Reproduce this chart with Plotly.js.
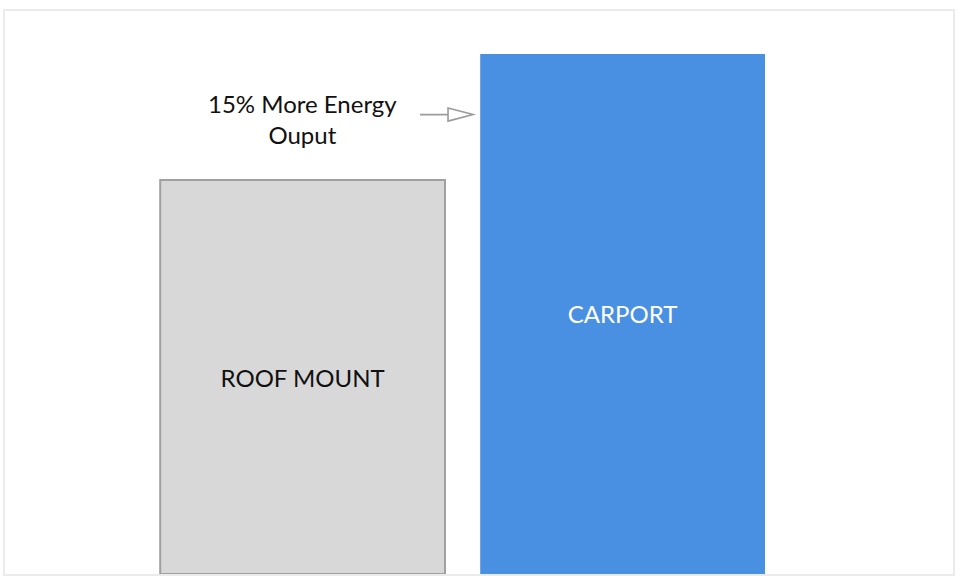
<!DOCTYPE html>
<html>
<head>
<meta charset="utf-8">
<script src="https://cdn.plot.ly/plotly-3.0.1.min.js"></script>
<style>html,body{margin:0;padding:0;background:#fff;}#chart{width:962px;height:582px;}</style>
</head>
<body>
<div id="chart"></div>
<script>
const categories = ['ROOF MOUNT', 'CARPORT'];
const energyOutput = [100, 132];
const barLabels = ['ROOF MOUNT', 'CARPORT'];
const annotationText = '15% More Energy<br>Ouput';

const trace = {
  type: 'bar',
  x: categories,
  y: energyOutput,
  width: 0.89,
  text: barLabels,
  textposition: 'inside',
  insidetextanchor: 'middle',
  textangle: 0,
  textfont: {family: 'Lato, "Open Sans", sans-serif', size: 24, color: ['#111111', '#ffffff']},
  marker: {
    color: ['#d8d8d8', '#4a90e2'],
    line: {color: ['#a0a0a0', '#4a90e2'], width: [2, 0]}
  },
  hoverinfo: 'none',
  cliponaxis: false
};

const layout = {
  width: 962, height: 582,
  margin: {l: 5, r: 9, t: 11, b: 8, pad: 0},
  paper_bgcolor: '#ffffff',
  plot_bgcolor: '#ffffff',
  showlegend: false,
  xaxis: {
    type: 'category',
    range: [-0.93, 2.0325],
    showticklabels: false, ticks: '', showgrid: false, zeroline: false,
    showline: true, mirror: true, linecolor: '#ebebeb', linewidth: 2,
    layer: 'below traces', fixedrange: true
  },
  yaxis: {
    range: [0, 142.9],
    showticklabels: false, ticks: '', showgrid: false, zeroline: false,
    showline: true, mirror: true, linecolor: '#ebebeb', linewidth: 2,
    layer: 'below traces', fixedrange: true
  },
  annotations: [{
    xref: 'x', yref: 'paper',
    x: categories[0], y: 0.808,
    text: annotationText,
    showarrow: false,
    align: 'center',
    xanchor: 'center', yanchor: 'middle',
    font: {family: 'Lato, "Open Sans", sans-serif', size: 24, color: '#111111'}
  }],
  shapes: [{
    type: 'path',
    xref: 'paper', yref: 'paper',
    xsizemode: 'pixel', ysizemode: 'pixel',
    xanchor: 0.4937, yanchor: 0.816,
    path: 'M -53,0 L -25,0 M -25,6.5 L 0,0 L -25,-6.5 Z',
    line: {color: '#9b9b9b', width: 1.6},
    fillcolor: 'rgba(0,0,0,0)'
  }]
};

Plotly.newPlot('chart', [trace], layout, {displayModeBar: false, staticPlot: true});
</script>
</body>
</html>
